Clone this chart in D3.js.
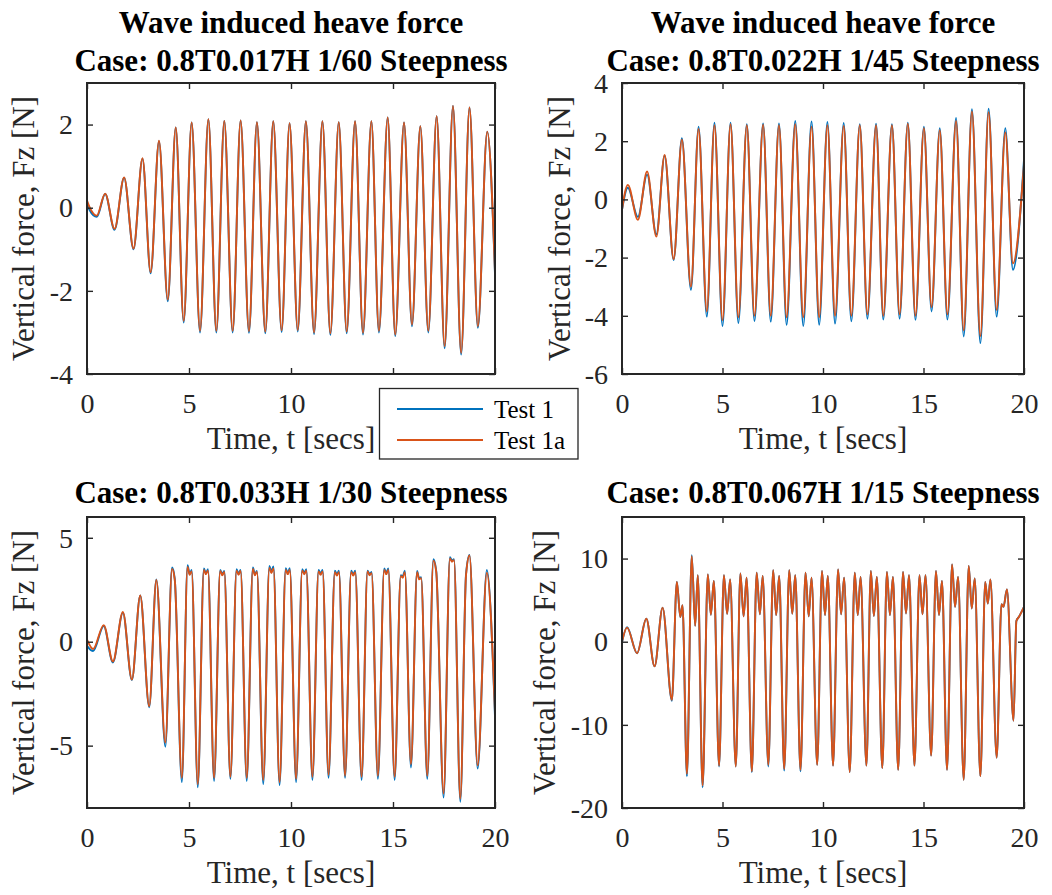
<!DOCTYPE html>
<html>
<head>
<meta charset="utf-8">
<script src="https://cdn.jsdelivr.net/npm/d3@7"></script>
<style>
  body { margin: 0; background: #fff; }
  svg { display: block; }
</style>
</head>
<body>
<svg id="chart" width="1052" height="895"></svg>
<script>
// ---- Heave force records, peak/trough samples (time in s, force in N) ----
const seriesNames = ["Test 1", "Test 1a"];
const xTickValues = [0, 5, 10, 15, 20];
// the legend sits over the last two labels of the first panel
const p1XLabels = [0, 5, 10];

// Case 0.8T0.017H, 1/60 steepness
const p1Time = [0, 0.12, 0.48, 0.89, 1.35, 1.82, 2.28, 2.72, 3.12, 3.53, 3.96, 4.35, 4.74, 5.13,
  5.54, 5.95, 6.34, 6.73, 7.14, 7.53, 7.94, 8.33, 8.74, 9.13, 9.54, 9.93, 10.33, 10.73, 11.13,
  11.54, 11.93, 12.34, 12.73, 13.14, 13.53, 13.94, 14.31, 14.74, 15.11, 15.54, 15.93, 16.34,
  16.73, 17.14, 17.53, 17.94, 18.34, 18.75, 19.16, 19.62, 20];
const p1Test1 = [0.12, -0.05, -0.22, 0.33, -0.53, 0.72, -1.00, 1.18, -1.58, 1.60, -2.25, 1.93,
  -2.76, 2.05, -3.00, 2.13, -3.00, 2.09, -3.00, 2.10, -3.01, 2.06, -3.02, 2.08, -2.99, 2.03,
  -2.98, 2.08, -3.04, 2.08, -3.06, 2.06, -3.02, 2.08, -3.05, 2.08, -3.00, 2.17, -3.09, 2.05,
  -2.85, 1.96, -3.00, 2.20, -3.38, 2.45, -3.53, 2.41, -2.89, 1.83, -1.60];
const p1Test1a = [0.17, 0.02, -0.19, 0.34, -0.51, 0.73, -0.98, 1.19, -1.55, 1.61, -2.21, 1.93,
  -2.72, 2.05, -2.96, 2.13, -2.96, 2.09, -2.96, 2.10, -2.97, 2.06, -2.98, 2.08, -2.95, 2.03,
  -2.94, 2.08, -3.00, 2.08, -3.02, 2.06, -2.98, 2.08, -3.01, 2.08, -2.96, 2.17, -3.05, 2.05,
  -2.81, 1.96, -2.96, 2.20, -3.33, 2.45, -3.49, 2.41, -2.85, 1.83, -1.55];
const p1YTicks = [-4, -2, 0, 2];

// Case 0.8T0.022H, 1/45 steepness
const p2Time = [0, 0.29, 0.79, 1.25, 1.71, 2.12, 2.57, 2.98, 3.43, 3.81, 4.22, 4.60, 5.00, 5.40,
  5.79, 6.21, 6.59, 7.02, 7.40, 7.81, 8.19, 8.62, 9.02, 9.43, 9.81, 10.22, 10.60, 11.03, 11.41,
  11.83, 12.21, 12.64, 13.00, 13.43, 13.81, 14.22, 14.60, 15.02, 15.40, 15.81, 16.19, 16.62,
  17.00, 17.41, 17.83, 18.24, 18.64, 19.07, 19.45, 20];
const p2Test1 = [-0.36, 0.40, -0.60, 0.85, -1.20, 1.50, -2.08, 2.10, -3.11, 2.50, -4.03, 2.64,
  -4.35, 2.64, -4.25, 2.58, -4.18, 2.61, -4.20, 2.61, -4.31, 2.70, -4.35, 2.68, -4.31, 2.66,
  -4.27, 2.63, -4.19, 2.58, -4.10, 2.60, -4.13, 2.58, -4.10, 2.64, -4.14, 2.50, -3.85, 2.45,
  -4.13, 2.80, -4.71, 3.10, -4.94, 3.12, -4.03, 2.45, -2.42, 1.36];
const p2Test1a = [-0.36, 0.50, -0.70, 0.96, -1.28, 1.53, -2.05, 2.05, -3.00, 2.42, -3.85, 2.55,
  -4.15, 2.58, -4.05, 2.55, -4.00, 2.57, -4.00, 2.55, -4.05, 2.58, -4.05, 2.50, -4.05, 2.55,
  -4.00, 2.52, -4.00, 2.55, -3.95, 2.55, -4.00, 2.55, -3.95, 2.60, -4.00, 2.45, -3.70, 2.38,
  -3.95, 2.70, -4.50, 3.02, -4.70, 3.00, -3.80, 2.30, -2.20, 1.20];
const p2YTicks = [-6, -4, -2, 0, 2, 4];

// Case 0.8T0.033H, 1/30 steepness (crests carry two small humps)
const p3Time = [0, 0.30, 0.82, 1.27, 1.76, 2.20, 2.61, 3.05, 3.40, 3.84, 4.17, 4.30, 4.65,
  4.93, 5.03, 5.13, 5.43,
  5.73, 5.83, 5.93, 6.23,
  6.53, 6.63, 6.73, 7.03,
  7.33, 7.43, 7.53, 7.83,
  8.13, 8.23, 8.33, 8.64,
  8.94, 9.04, 9.14, 9.44,
  9.74, 9.84, 9.94, 10.25,
  10.55, 10.65, 10.75, 11.05,
  11.35, 11.45, 11.55, 11.84,
  12.15, 12.25, 12.35, 12.65,
  12.95, 13.05, 13.15, 13.46,
  13.75, 13.85, 13.95, 14.26,
  14.57, 14.67, 14.77, 15.08,
  15.38, 15.48, 15.58, 15.88,
  16.18, 16.28, 16.38, 16.68,
  16.98, 17.12, 17.48,
  17.79, 17.89, 17.99, 18.30,
  18.58, 18.75, 19.15,
  19.60, 20];
const p3Test1 = [-0.20, -0.45, 0.75, -1.00, 1.40, -1.85, 2.22, -3.15, 3.00, -5.05, 3.57, 3.03, -6.75,
  3.68, 3.26, 3.45, -7.00,
  3.52, 3.29, 3.49, -6.70,
  3.45, 3.25, 3.41, -6.60,
  3.49, 3.27, 3.45, -6.70,
  3.57, 3.25, 3.41, -6.85,
  3.65, 3.38, 3.62, -6.90,
  3.54, 3.30, 3.54, -6.75,
  3.49, 3.30, 3.49, -6.65,
  3.45, 3.28, 3.45, -6.55,
  3.42, 3.24, 3.42, -6.55,
  3.42, 3.24, 3.42, -6.65,
  3.42, 3.25, 3.36, -6.60,
  3.52, 3.30, 3.52, -6.65,
  3.20, 3.15, 3.42, -6.05,
  3.40, 3.05, 3.10, -6.60,
  3.97, 3.40, -7.50,
  4.07, 3.90, 3.97, -7.70,
  3.25, 4.17, -6.10,
  3.45, -3.60];
const p3Test1a = [0.10, -0.35, 0.80, -0.95, 1.43, -1.82, 2.22, -3.10, 2.97, -4.85, 3.50, 3.00, -6.55,
  3.60, 3.22, 3.38, -6.85,
  3.45, 3.25, 3.42, -6.55,
  3.40, 3.20, 3.36, -6.50,
  3.42, 3.22, 3.40, -6.55,
  3.50, 3.20, 3.36, -6.65,
  3.55, 3.30, 3.52, -6.75,
  3.45, 3.25, 3.45, -6.60,
  3.42, 3.24, 3.42, -6.50,
  3.38, 3.22, 3.38, -6.40,
  3.35, 3.18, 3.35, -6.45,
  3.35, 3.18, 3.35, -6.50,
  3.38, 3.20, 3.30, -6.45,
  3.45, 3.25, 3.45, -6.50,
  3.15, 3.08, 3.35, -5.90,
  3.35, 3.00, 3.05, -6.45,
  3.90, 3.35, -7.30,
  4.00, 3.85, 3.92, -7.55,
  3.20, 4.15, -5.95,
  3.32, -3.40];
const p3YTicks = [-5, 0, 5];

// Case 0.8T0.067H, 1/15 steepness (double-peaked crests)
const p4Time = [0, 0.25, 0.75, 1.21, 1.62, 2.02, 2.48,
  2.73, 2.90, 3.01, 3.23,
  3.47, 3.64, 3.77, 4.01,
  4.27, 4.42, 4.57, 4.83,
  5.07, 5.23, 5.38, 5.66,
  5.89, 6.05, 6.20, 6.46,
  6.70, 6.86, 7.00, 7.28,
  7.52, 7.67, 7.82, 8.07,
  8.32, 8.47, 8.62, 8.88,
  9.13, 9.29, 9.43, 9.71,
  9.95, 10.10, 10.24, 10.50,
  10.75, 10.90, 11.05, 11.33,
  11.58, 11.73, 11.87, 12.16,
  12.38, 12.53, 12.68, 12.95,
  13.18, 13.33, 13.48, 13.74,
  13.98, 14.13, 14.28, 14.55,
  14.80, 14.95, 15.10, 15.38,
  15.62, 15.77, 15.92, 16.17,
  16.42, 16.57, 16.72, 17.00,
  17.25, 17.40, 17.55, 17.83,
  18.07, 18.20, 18.33, 18.64,
  18.88, 18.98, 19.15, 19.48,
  19.62, 19.75, 20];
const p4Test1 = [-0.10, 1.75, -1.38, 2.77, -2.97, 4.10, -7.10,
  7.20, 2.97, 4.40, -16.2,
  10.4, 1.90, 8.00, -17.5,
  8.10, 3.25, 7.30, -15.0,
  8.00, 3.35, 7.50, -15.0,
  8.20, 3.05, 7.70, -15.7,
  8.30, 3.30, 7.90, -15.0,
  8.60, 3.20, 7.90, -15.5,
  8.60, 3.37, 8.00, -15.6,
  8.30, 3.05, 7.70, -14.8,
  8.50, 3.20, 7.90, -14.9,
  8.70, 3.30, 7.70, -15.7,
  8.30, 3.20, 7.80, -14.9,
  8.50, 3.10, 7.80, -15.2,
  8.40, 3.20, 7.80, -15.4,
  8.40, 3.40, 8.00, -14.9,
  8.00, 3.30, 8.00, -13.7,
  8.50, 3.20, 7.30, -15.4,
  9.30, 4.20, 7.80, -16.6,
  9.10, 4.00, 7.60, -16.2,
  7.20, 4.60, 7.50, -13.95,
  4.50, 4.20, 6.30, -9.5,
  2.50, 3.00, 4.20];
const p4Test1a = [0.00, 1.70, -1.38, 2.77, -2.97, 4.10, -7.00,
  7.20, 2.97, 4.40, -15.9,
  10.3, 1.90, 8.00, -17.3,
  8.10, 3.25, 7.30, -14.9,
  8.00, 3.35, 7.50, -15.0,
  8.20, 3.05, 7.70, -15.6,
  8.30, 3.30, 7.90, -14.8,
  8.60, 3.20, 7.90, -15.3,
  8.60, 3.37, 8.00, -15.4,
  8.30, 3.05, 7.70, -14.8,
  8.50, 3.20, 7.90, -14.9,
  8.70, 3.30, 7.70, -15.7,
  8.30, 3.20, 7.80, -14.9,
  8.50, 3.10, 7.80, -15.2,
  8.40, 3.20, 7.80, -15.4,
  8.40, 3.40, 8.00, -14.9,
  8.00, 3.30, 8.00, -13.7,
  8.50, 3.20, 7.30, -15.4,
  9.30, 4.20, 7.80, -16.6,
  9.10, 4.00, 7.60, -16.2,
  7.20, 4.60, 7.50, -13.95,
  4.50, 4.20, 6.30, -9.5,
  2.50, 3.00, 4.20];
const p4YTicks = [-20, -10, 0, 10];

// ---- Layout and styling ----
const FONT = "'Liberation Serif', 'Times New Roman', Times, serif";
const AXIS_COLOR = "#262626";
const COLORS = ["#0072BD", "#D95319"];

const panels = [
  { titles: ["Wave induced heave force", "Case: 0.8T0.017H 1/60 Steepness"],
    time: p1Time, values: [p1Test1, p1Test1a], yDomain: [-4, 3], yTicks: p1YTicks, xLabels: p1XLabels,
    box: { left: 87, right: 495, top: 83, bottom: 374 }, yLabelX: 34, titleY: [33, 71] },
  { titles: ["Wave induced heave force", "Case: 0.8T0.022H 1/45 Steepness"],
    time: p2Time, values: [p2Test1, p2Test1a], yDomain: [-6, 4], yTicks: p2YTicks, xLabels: xTickValues,
    box: { left: 622, right: 1024, top: 83, bottom: 374 }, yLabelX: 570, titleY: [33, 71] },
  { titles: ["Case: 0.8T0.033H 1/30 Steepness"],
    time: p3Time, values: [p3Test1, p3Test1a], yDomain: [-8, 6], yTicks: p3YTicks, xLabels: xTickValues,
    box: { left: 87, right: 495, top: 517, bottom: 808 }, yLabelX: 34, titleY: [503] },
  { titles: ["Case: 0.8T0.067H 1/15 Steepness"],
    time: p4Time, values: [p4Test1, p4Test1a], yDomain: [-20, 15], yTicks: p4YTicks, xLabels: xTickValues,
    box: { left: 622, right: 1024, top: 517, bottom: 808 }, yLabelX: 555, titleY: [503] }
];

const svg = d3.select("#chart");
svg.append("rect").attr("width", 1052).attr("height", 895).attr("fill", "#fff");

panels.forEach((p, i) => {
  const b = p.box;
  const x = d3.scaleLinear().domain([0, 20]).range([b.left, b.right]);
  const y = d3.scaleLinear().domain(p.yDomain).range([b.bottom, b.top]);
  const g = svg.append("g");

  const clipId = "clip" + i;
  g.append("clipPath").attr("id", clipId)
    .append("rect").attr("x", b.left).attr("y", b.top)
    .attr("width", b.right - b.left).attr("height", b.bottom - b.top);

  // traces: Test 1 first, Test 1a drawn over it
  const line = d3.line()
    .x(d => x(d[0]))
    .y(d => y(d[1]))
    .curve(d3.curveMonotoneX);
  p.values.forEach((vals, k) => {
    const pts = p.time.map((t, j) => [t, vals[j]]);
    g.append("path")
      .attr("clip-path", `url(#${clipId})`)
      .attr("d", line(pts))
      .attr("fill", "none")
      .attr("stroke", COLORS[k])
      .attr("stroke-width", 1.9)
      .attr("stroke-linejoin", "round");
  });

  const styleAxis = sel => {
    sel.select(".domain").remove();
    sel.attr("font-family", FONT).attr("font-size", 28);
    sel.selectAll(".tick line").attr("stroke", AXIS_COLOR).attr("stroke-width", 1.4);
    sel.selectAll(".tick text").attr("fill", AXIS_COLOR);
  };

  // bottom axis with labels, inward ticks
  const gb = g.append("g").attr("transform", `translate(0,${b.bottom})`)
    .call(d3.axisBottom(x).tickValues(xTickValues).tickSize(-6)
      .tickFormat(d => p.xLabels.includes(d) ? String(d) : ""));
  styleAxis(gb);
  gb.selectAll(".tick text").attr("y", 38.5).attr("dy", null);

  // top axis: ticks only
  const gt = g.append("g").attr("transform", `translate(0,${b.top})`)
    .call(d3.axisTop(x).tickValues(xTickValues).tickSize(-6).tickFormat(""));
  styleAxis(gt);

  // left axis with labels
  const gl = g.append("g").attr("transform", `translate(${b.left},0)`)
    .call(d3.axisLeft(y).tickValues(p.yTicks).tickSize(-6).tickPadding(14).tickFormat(d => String(d)));
  styleAxis(gl);
  gl.selectAll(".tick text").attr("dy", "0.33em");

  // right axis: ticks only
  const gr = g.append("g").attr("transform", `translate(${b.right},0)`)
    .call(d3.axisRight(y).tickValues(p.yTicks).tickSize(-6).tickFormat(""));
  styleAxis(gr);

  // axes box
  g.append("rect")
    .attr("x", b.left).attr("y", b.top)
    .attr("width", b.right - b.left).attr("height", b.bottom - b.top)
    .attr("fill", "none").attr("stroke", AXIS_COLOR).attr("stroke-width", 2);

  // axis labels
  const cx = (b.left + b.right) / 2;
  g.append("text")
    .attr("x", cx).attr("y", b.bottom + 75)
    .attr("text-anchor", "middle")
    .attr("font-family", FONT).attr("font-size", 31).attr("fill", AXIS_COLOR)
    .text("Time, t [secs]");
  g.append("text")
    .attr("transform", `translate(${p.yLabelX},${(b.top + b.bottom) / 2}) rotate(-90)`)
    .attr("text-anchor", "middle")
    .attr("font-family", FONT).attr("font-size", 31).attr("fill", AXIS_COLOR)
    .text("Vertical force, Fz [N]");

  // title
  p.titles.forEach((t, k) => {
    g.append("text")
      .attr("x", cx).attr("y", p.titleY[k])
      .attr("text-anchor", "middle")
      .attr("font-family", FONT).attr("font-size", 31).attr("font-weight", "bold")
      .attr("fill", "#000")
      .text(t);
  });
});

// legend
const lg = svg.append("g");
lg.append("rect")
  .attr("x", 379.5).attr("y", 388.5).attr("width", 198.5).attr("height", 70.5)
  .attr("fill", "#fff").attr("stroke", AXIS_COLOR).attr("stroke-width", 1.3);
seriesNames.forEach((name, k) => {
  const ly = 409 + k * 31;
  lg.append("line")
    .attr("x1", 397).attr("x2", 483).attr("y1", ly).attr("y2", ly)
    .attr("stroke", COLORS[k]).attr("stroke-width", 2);
  lg.append("text")
    .attr("x", 494).attr("y", ly + 8.5)
    .attr("font-family", FONT).attr("font-size", 25).attr("fill", "#000")
    .text(name);
});
</script>
</body>
</html>
